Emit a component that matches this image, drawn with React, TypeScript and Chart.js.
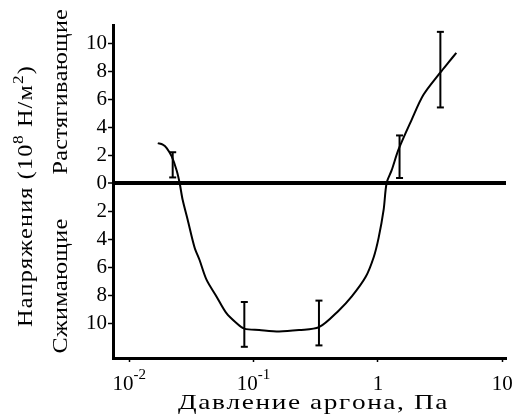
import React, { useEffect, useRef } from 'react';
import { Chart, registerables } from 'chart.js';

Chart.register(...registerables);

const FONT = "'Liberation Serif', 'Times New Roman', serif";

// Curve: argon pressure (Pa) vs stress (10^8 N/m^2); negative = compressive
const pressure = [
  0.01697, 0.01861, 0.02002, 0.02196, 0.02407, 0.02544, 0.02689, 0.02948, 0.03354, 0.03678,
  0.04182, 0.05029, 0.06047, 0.07271, 0.08425, 0.111, 0.1605, 0.232, 0.3354, 0.4849,
  0.6162, 0.7971, 0.9239, 1.013, 1.111, 1.174, 1.287, 1.464, 1.861, 2.321, 3.175,
  3.678, 4.263,
];
const stress = [
  2.85, 2.75, 2.5, 1.9, 0.9, 0.0, -1.2, -2.6, -4.6, -5.5,
  -6.9, -8.1, -9.3, -10.0, -10.4, -10.5, -10.6, -10.5, -10.3, -9.1,
  -8.1, -6.7, -5.3, -3.9, -1.9, 0.0, 0.9, 2.4, 4.5, 6.3, 7.9,
  8.6, 9.3,
];

// Error bars
const errPressure = [0.02237, 0.08425, 0.3354, 1.491, 3.175];
const errLow = [0.4, -11.7, -11.6, 0.36, 5.4];
const errHigh = [2.2, -8.5, -8.4, 3.4, 10.8];

// Axis ticks
const xTicks = [0.01, 0.1, 1, 10];
const xTickBase = ['10', '10', '1', '10'];
const xTickSup = ['-2', '-1', '', ''];
const yTicks = [-10, -8, -6, -4, -2, 0, 2, 4, 6, 8, 10];

const xTitle = 'Давление аргона, Па';
const yTitleParts = [
  { t: 'Напряжения (10', sup: false },
  { t: '8', sup: true },
  { t: ' Н/м', sup: false },
  { t: '2', sup: true },
  { t: ')', sup: false },
];
const yTensile = 'Растягивающие';
const yCompressive = 'Сжимающие';

const BIG = `21px ${FONT}`;
const SMALL = `15px ${FONT}`;

type Part = { t: string; sup: boolean };

function drawRun(
  ctx: CanvasRenderingContext2D,
  parts: Part[],
  cx: number,
  baseline: number,
  target: number,
  rotated: boolean,
  stretch: number
) {
  ctx.save();
  if (rotated) {
    ctx.translate(baseline, cx);
    ctx.rotate(-Math.PI / 2);
  } else {
    ctx.translate(cx, baseline);
  }
  let natural = 0;
  let nChars = 0;
  const widths = parts.map((p) => {
    ctx.font = p.sup ? SMALL : BIG;
    const w = ctx.measureText(p.t).width;
    natural += w;
    nChars += p.t.length;
    return w;
  });
  const ls = Math.max(0, (target / stretch - natural) / nChars);
  ctx.scale(stretch, 1);
  const total = natural + ls * nChars;
  let x = -total / 2;
  ctx.textAlign = 'left';
  ctx.textBaseline = 'alphabetic';
  parts.forEach((p, i) => {
    ctx.font = p.sup ? SMALL : BIG;
    let cxp = x;
    for (const ch of p.t) {
      ctx.fillText(ch, cxp, p.sup ? -9 : 0);
      cxp += ctx.measureText(ch).width + ls;
    }
    x += widths[i] + ls * p.t.length;
  });
  ctx.restore();
}

const textPlugin = {
  id: 'customTexts',
  afterDraw(chart: any) {
    const ctx: CanvasRenderingContext2D = chart.ctx;
    const xs = chart.scales.x;
    ctx.save();
    ctx.fillStyle = '#000';
    ctx.textBaseline = 'alphabetic';
    xTicks.forEach((v, i) => {
      const px = xs.getPixelForValue(v);
      ctx.font = BIG;
      const w1 = ctx.measureText(xTickBase[i]).width;
      ctx.font = SMALL;
      const w2 = xTickSup[i] ? ctx.measureText(xTickSup[i]).width : 0;
      const x0 = px - (w1 + w2) / 2;
      ctx.textAlign = 'left';
      ctx.font = BIG;
      ctx.fillText(xTickBase[i], x0, 390);
      if (xTickSup[i]) {
        ctx.font = SMALL;
        ctx.fillText(xTickSup[i], x0 + w1, 379);
      }
    });

    drawRun(ctx, [{ t: xTitle, sup: false }], 313, 409, 270, false, 1.3);
    drawRun(ctx, yTitleParts, 196, 32, 262, true, 1.15);
    drawRun(ctx, [{ t: yTensile, sup: false }], 92, 67, 165, true, 1.15);
    drawRun(ctx, [{ t: yCompressive, sup: false }], 286, 67, 135, true, 1.15);
    ctx.restore();
  },
};

export default function App() {
  const ref = useRef<HTMLCanvasElement | null>(null);

  useEffect(() => {
    document.body.style.margin = '0';
    if (!ref.current) return;
    const errSets = errPressure.map((p, i) => ({
      data: [
        { x: p, y: errLow[i] },
        { x: p, y: errHigh[i] },
      ],
      borderColor: '#000',
      borderWidth: 2,
      pointStyle: 'line',
      pointRadius: 3.5,
      pointBorderWidth: 2,
      pointBorderColor: '#000',
      showLine: true,
    }));
    const chart = new Chart(ref.current, {
      type: 'scatter',
      data: {
        datasets: [
          {
            data: pressure.map((p, i) => ({ x: p, y: stress[i] })),
            borderColor: '#000',
            borderWidth: 2,
            pointRadius: 0,
            showLine: true,
            tension: 0.3,
          },
          ...errSets,
        ] as any,
      },
      options: {
        animation: false,
        responsive: false,
        devicePixelRatio: 1,
        layout: { padding: { top: 25, right: 4, left: 0, bottom: 0 } },
        plugins: { legend: { display: false }, tooltip: { enabled: false } },
        scales: {
          x: {
            type: 'logarithmic',
            min: 0.007408,
            max: 10.7,
            afterBuildTicks: (s: any) => {
              s.ticks = xTicks.map((v) => ({ value: v }));
            },
            afterFit: (s: any) => {
              s.height = 58;
            },
            ticks: { display: false },
            grid: {
              drawOnChartArea: false,
              drawTicks: true,
              tickLength: 4,
              tickColor: '#000',
              tickWidth: 1.5,
            },
            border: { color: '#000', width: 3 },
          },
          y: {
            type: 'linear',
            min: -12.5,
            max: 11.29,
            afterBuildTicks: (s: any) => {
              s.ticks = yTicks.map((v) => ({ value: v }));
            },
            afterFit: (s: any) => {
              s.width = 113;
            },
            ticks: {
              color: '#000',
              font: { family: FONT, size: 21 },
              padding: 1,
              callback: (v: any) => String(Math.abs(Number(v))),
            },
            grid: {
              drawOnChartArea: true,
              color: (c: any) => (c.tick && c.tick.value === 0 ? '#000' : 'rgba(0,0,0,0)'),
              lineWidth: (c: any) => (c.tick && c.tick.value === 0 ? 4 : 1),
              tickLength: 5,
              tickColor: '#000',
              tickWidth: 1.5,
            },
            border: { color: '#000', width: 3 },
          },
        },
      } as any,
      plugins: [textPlugin],
    });
    return () => chart.destroy();
  }, []);

  return (
    <div style={{ width: 512, height: 416 }}>
      <canvas ref={ref} width={512} height={416} style={{ display: 'block' }} />
    </div>
  );
}
